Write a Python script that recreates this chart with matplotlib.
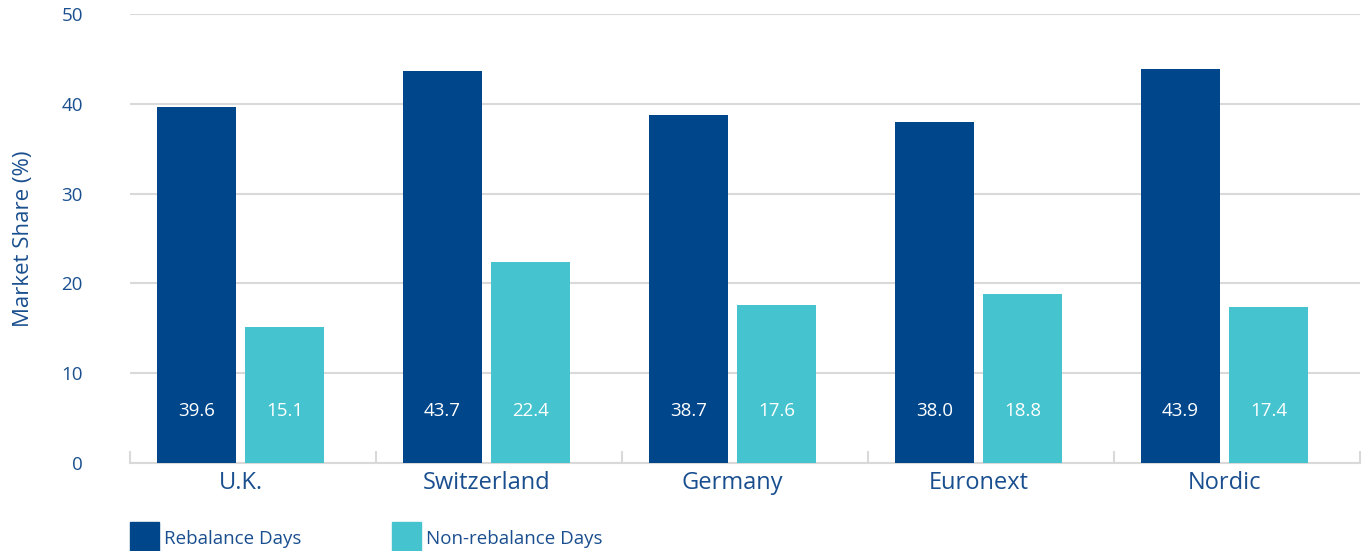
import matplotlib.pyplot as plt
import numpy as np
from matplotlib.patches import Rectangle

markets = ["U.K.", "Switzerland", "Germany", "Euronext", "Nordic"]
rebalance = [39.6, 43.7, 38.7, 38.0, 43.9]
non_rebalance = [15.1, 22.4, 17.6, 18.8, 17.4]
yticks = [0, 10, 20, 30, 40, 50]

DARK = "#00468b"
LIGHT = "#45c3ce"
TXT = "#1a4f8f"
GRID = "#d9d9d9"

plt.rcParams['font.family'] = ['Open Sans', 'DejaVu Sans']


def main():
    fig = plt.figure(figsize=(13.71, 5.51), dpi=100)
    ax = fig.add_axes([130 / 1371, 1 - 463 / 551, 1230 / 1371, 449 / 551])

    x = np.arange(len(markets))
    w = 0.32
    off_dark = -0.23
    off_light = 0.128
    ax.bar(x + off_dark, rebalance, w, color=DARK, zorder=3)
    ax.bar(x + off_light, non_rebalance, w, color=LIGHT, zorder=3)

    # value labels inside bars
    for i in range(len(markets)):
        ax.text(x[i] + off_dark, 5.8, f"{rebalance[i]:.1f}", color="white",
                ha="center", va="center", fontsize=13.5, zorder=4)
        ax.text(x[i] + off_light, 5.8, f"{non_rebalance[i]:.1f}", color="white",
                ha="center", va="center", fontsize=13.5, zorder=4)

    ax.set_xlim(-0.5, len(markets) - 0.5)
    ax.set_ylim(0, 50)
    ax.set_yticks(yticks)
    ax.tick_params(axis='y', length=0, pad=34, labelsize=13.5, labelcolor=TXT)
    ax.yaxis.grid(True, color=GRID, linewidth=1.5, zorder=0)

    ax.set_xticks(x + (off_dark + off_light) / 2)
    ax.set_xticklabels(markets)
    ax.set_xticks(np.arange(len(markets) + 1) - 0.5, minor=True)
    ax.tick_params(axis='x', which='major', length=0, pad=6, labelsize=17, labelcolor=TXT)
    ax.tick_params(axis='x', which='minor', direction='in', length=9, color=GRID, width=1.5)

    for s in ['top', 'right', 'left']:
        ax.spines[s].set_visible(False)
    ax.spines['bottom'].set_color(GRID)
    ax.spines['bottom'].set_linewidth(1.5)

    ax.set_ylabel("Market Share (%)", color=TXT, fontsize=16)
    ax.yaxis.set_label_coords(-96 / 1230, 0.5)

    # legend
    H, W = 551, 1371
    fig.add_artist(Rectangle((130 / W, 0), 29 / W, 29 / H, color=DARK, transform=fig.transFigure))
    fig.text(164 / W, 12 / H, "Rebalance Days", color=TXT, fontsize=13.5, va="center")
    fig.add_artist(Rectangle((392 / W, 0), 29 / W, 29 / H, color=LIGHT, transform=fig.transFigure))
    fig.text(426 / W, 12 / H, "Non-rebalance Days", color=TXT, fontsize=13.5, va="center")

    plt.savefig("out.png", dpi=100)
    plt.close()


if __name__ == '__main__':
    main()
